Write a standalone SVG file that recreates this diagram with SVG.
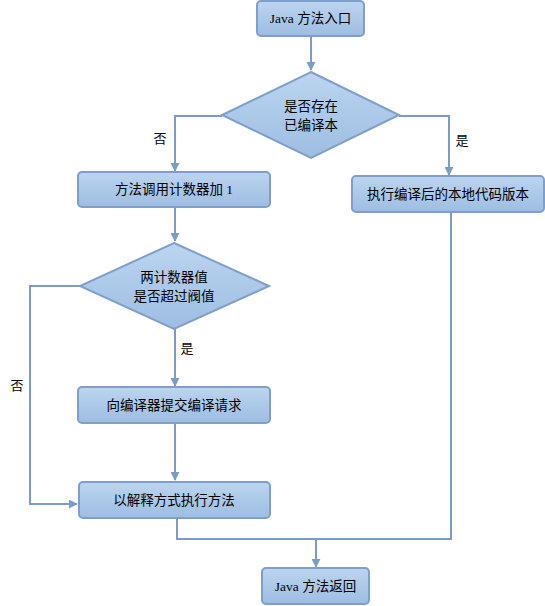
<svg xmlns="http://www.w3.org/2000/svg" width="545" height="606" viewBox="0 0 545 606">
<defs>
<linearGradient id="g" x1="0" y1="0" x2="0" y2="1">
<stop offset="0" stop-color="#bcd5f0"/>
<stop offset="1" stop-color="#9dbde1"/>
</linearGradient>
<marker id="ah" viewBox="0 0 10 10" refX="9" refY="5" markerWidth="4.5" markerHeight="4.5" orient="auto" markerUnits="strokeWidth">
<path d="M0,0 L10,5 L0,10 z" fill="#7a9dc8"/>
</marker>
<style>
.n{fill:url(#g);stroke:#7f9fca;stroke-width:2}
.c{fill:none;stroke:#7a9dc8;stroke-width:2}
.t{font-family:"Liberation Serif","Noto Sans CJK SC",serif;font-size:13.5px;fill:#000;text-anchor:middle}
.l{font-family:"Noto Sans CJK SC",sans-serif;font-size:13px;fill:#000;text-anchor:middle}
</style>
</defs>
<rect width="545" height="606" fill="#fff"/>
<g id="connectors">
<path class="c" d="M311,36 V70" marker-end="url(#ah)"/>
<path class="c" d="M222,116 H175 V171" marker-end="url(#ah)"/>
<path class="c" d="M399,116 H449 V175" marker-end="url(#ah)"/>
<path class="c" d="M175,208 V241" marker-end="url(#ah)"/>
<path class="c" d="M80,286 H30 V504 H77" marker-end="url(#ah)"/>
<path class="c" d="M175,329 V386" marker-end="url(#ah)"/>
<path class="c" d="M175,423 V480" marker-end="url(#ah)"/>
<path class="c" d="M177,518 V539 H451 V212"/>
<path class="c" d="M316,539 V567" marker-end="url(#ah)"/>
<text class="l" x="160" y="143">否</text>
<text class="l" x="462" y="145">是</text>
<text class="l" x="187" y="353">是</text>
<text class="l" x="17" y="390">否</text>
</g>
<g id="start">
<rect class="n" x="257" y="1" width="107" height="35" rx="4"/>
<text class="t" x="310.5" y="23">Java 方法入口</text>
</g>
<g id="check-compiled">
<path class="n" d="M311,72 L399,115 L311,158 L222,115 Z"/>
<text class="t" x="311" y="111">是否存在</text>
<text class="t" x="311" y="130">已编译本</text>
</g>
<g id="counter">
<rect class="n" x="78" y="172" width="192" height="35" rx="4"/>
<text class="t" x="174" y="194">方法调用计数器加 1</text>
</g>
<g id="native">
<rect class="n" x="352" y="176" width="192" height="36" rx="4"/>
<text class="t" x="448" y="199">执行编译后的本地代码版本</text>
</g>
<g id="threshold">
<path class="n" d="M174,243 L269,286 L174,329 L80,286 Z"/>
<text class="t" x="174" y="282">两计数器值</text>
<text class="t" x="174" y="301">是否超过阀值</text>
</g>
<g id="submit">
<rect class="n" x="78" y="387" width="192" height="36" rx="4"/>
<text class="t" x="174" y="410">向编译器提交编译请求</text>
</g>
<g id="interpret">
<rect class="n" x="79" y="482" width="191" height="36" rx="4"/>
<text class="t" x="174" y="505">以解释方式执行方法</text>
</g>
<g id="return">
<rect class="n" x="262" y="568" width="107" height="36" rx="4"/>
<text class="t" x="315.5" y="591">Java 方法返回</text>
</g>
</svg>
